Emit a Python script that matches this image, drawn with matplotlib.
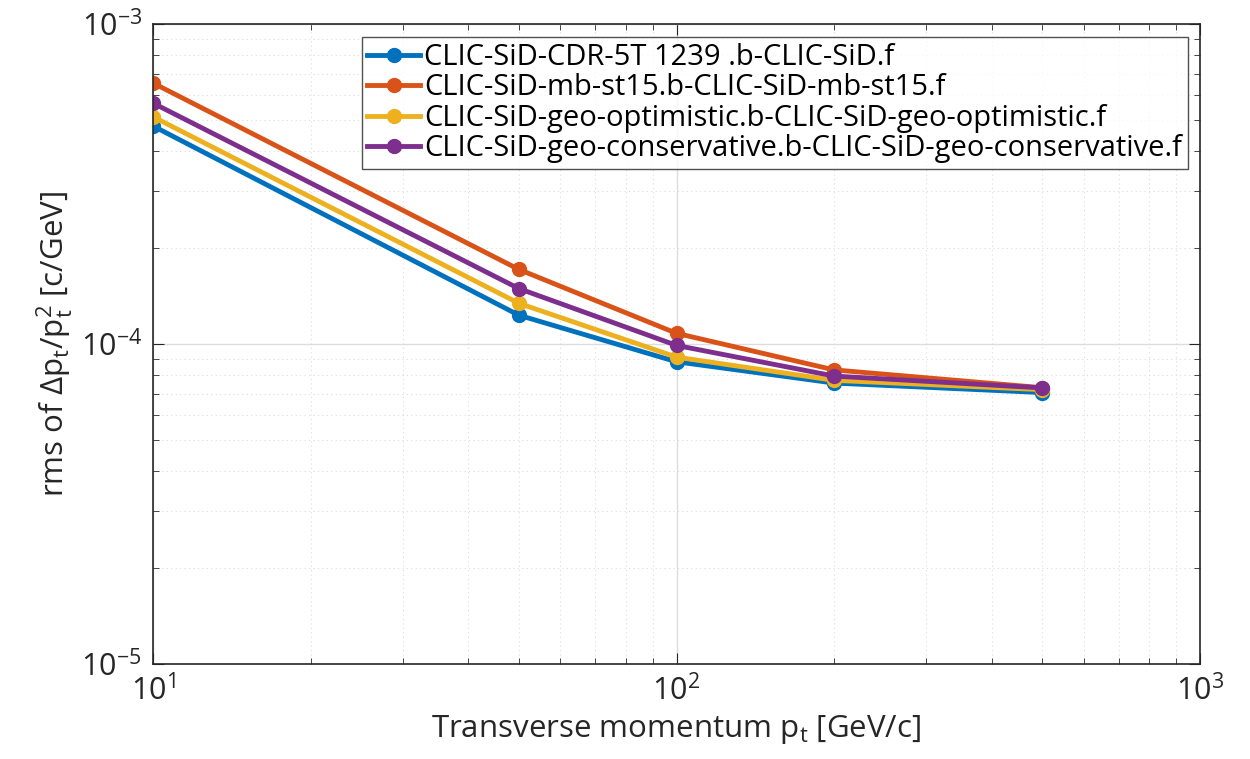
import matplotlib
matplotlib.use("Agg")
import matplotlib.pyplot as plt
from matplotlib.ticker import LogLocator, NullFormatter

pt = [10, 50, 100, 200, 500]
names = ["CLIC-SiD-CDR-5T 1239 .b-CLIC-SiD.f",
         "CLIC-SiD-mb-st15.b-CLIC-SiD-mb-st15.f",
         "CLIC-SiD-geo-optimistic.b-CLIC-SiD-geo-optimistic.f",
         "CLIC-SiD-geo-conservative.b-CLIC-SiD-geo-conservative.f"]
cdr = [4.80e-4, 1.23e-4, 8.8e-5, 7.55e-5, 7.05e-5]
mb = [6.54e-4, 1.71e-4, 1.08e-4, 8.3e-5, 7.3e-5]
opt = [5.13e-4, 1.34e-4, 9.1e-5, 7.7e-5, 7.2e-5]
cons = [5.66e-4, 1.49e-4, 9.9e-5, 7.94e-5, 7.29e-5]
series = [cdr, mb, opt, cons]
colors = ["#0072BD", "#D95319", "#EDB120", "#7E2F8E"]

FONT = 'Open Sans'
plt.rcParams['font.family'] = [FONT, 'DejaVu Sans']
plt.rcParams['mathtext.fontset'] = 'custom'
plt.rcParams['mathtext.rm'] = FONT
plt.rcParams['mathtext.it'] = FONT
plt.rcParams['mathtext.default'] = 'regular'

fig = plt.figure(figsize=(12.5, 7.59), dpi=100)
ax = fig.add_axes([153/1250, 1-664/759, (1200-153)/1250, (664-24)/759])

for y, c, n in zip(series, colors, names):
    ax.plot(pt, y, '-o', color=c, lw=3.5, ms=10, label=n)

ax.set_xscale('log')
ax.set_yscale('log')
ax.set_xlim(10, 1000)
ax.set_ylim(1e-5, 1e-3)

ax.xaxis.set_minor_locator(LogLocator(base=10, subs=range(2, 10)))
ax.yaxis.set_minor_locator(LogLocator(base=10, subs=range(2, 10)))
ax.xaxis.set_minor_formatter(NullFormatter())
ax.yaxis.set_minor_formatter(NullFormatter())

ax.grid(True, which='major', color='#dcdcdc', lw=1, ls='-')
ax.grid(True, which='minor', color='#dcdcdc', lw=0.8, ls=(0, (1, 3)))
ax.set_axisbelow(True)

ax.tick_params(which='both', direction='in', top=True, right=True, colors='#262626',
               labelcolor='#262626')
ax.tick_params(which='major', length=8, labelsize=22, pad=8)
ax.tick_params(which='minor', length=4)
for s in ax.spines.values():
    s.set_color('#262626')
    s.set_linewidth(1.2)

ax.set_xlabel('Transverse momentum p$_\\mathrm{t}$ [GeV/c]', fontsize=22.5, color='#262626',
              labelpad=4)
ax.set_ylabel('rms of $\\Delta$p$_\\mathrm{t}$/p$_\\mathrm{t}^2$ [c/GeV]', fontsize=22.5,
              color='#262626', labelpad=4)

leg = ax.legend(loc='upper right', bbox_to_anchor=(1188/1250, 1-37/759),
                bbox_transform=fig.transFigure, fontsize=21, frameon=True,
                fancybox=False, borderpad=0.2, labelspacing=0.05, handlelength=1.8,
                handletextpad=0.15, borderaxespad=0)
leg.get_frame().set_edgecolor('#262626')
leg.get_frame().set_linewidth(1.0)

fig.savefig('out.png', dpi=100)
